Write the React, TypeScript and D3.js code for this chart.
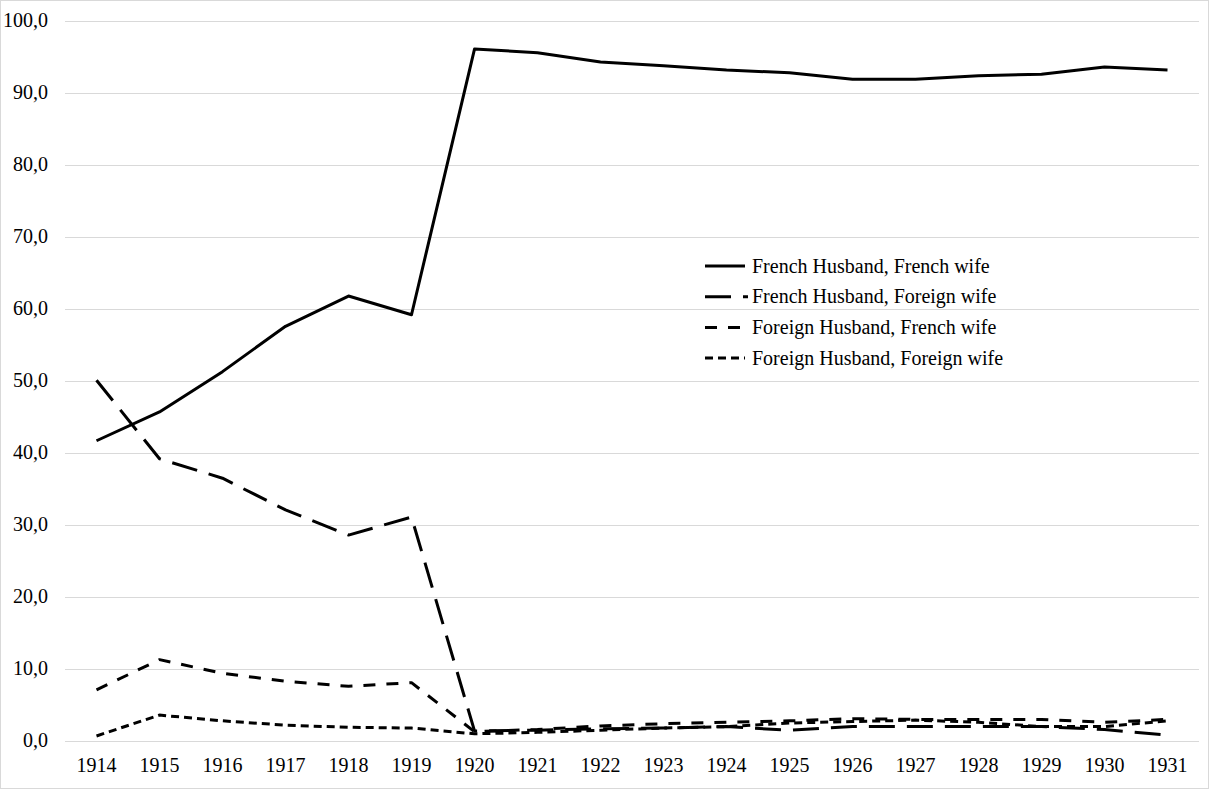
import { useEffect, useRef } from 'react'
import * as d3 from 'd3'

const years = ['1914', '1915', '1916', '1917', '1918', '1919', '1920', '1921', '1922', '1923', '1924', '1925', '1926', '1927', '1928', '1929', '1930', '1931']

const frenchFrench = [41.7, 45.7, 51.3, 57.6, 61.8, 59.2, 96.1, 95.6, 94.3, 93.8, 93.2, 92.8, 91.9, 91.9, 92.4, 92.6, 93.6, 93.2]
const frenchForeign = [50.1, 39.2, 36.5, 32.1, 28.6, 31.1, 1.4, 1.5, 1.7, 1.8, 2.0, 1.5, 2.0, 2.0, 2.0, 2.0, 1.6, 0.8]
const foreignFrench = [7.1, 11.3, 9.4, 8.3, 7.6, 8.1, 1.3, 1.6, 2.1, 2.4, 2.6, 2.8, 3.1, 3.0, 3.0, 3.0, 2.6, 3.0]
const foreignForeign = [0.7, 3.6, 2.8, 2.2, 1.9, 1.8, 1.0, 1.2, 1.5, 1.8, 2.0, 2.5, 2.7, 2.9, 2.6, 2.0, 2.0, 2.8]

const seriesNames = ['French Husband, French wife', 'French Husband, Foreign wife', 'Foreign Husband, French wife', 'Foreign Husband, Foreign wife']
const yTicks = [0, 10, 20, 30, 40, 50, 60, 70, 80, 90, 100]

export default function App() {
  const svgRef = useRef<SVGSVGElement>(null)

  useEffect(() => {
    if (!svgRef.current) return
    const width = 1212
    const height = 791
    const margin = { top: 21, right: 13, bottom: 50, left: 65 }
    const innerWidth = width - margin.left - margin.right
    const innerHeight = height - margin.top - margin.bottom
    const font = '"Liberation Serif", "Times New Roman", serif'

    const x = d3.scaleBand().domain(years).range([0, innerWidth])
    const y = d3.scaleLinear().domain([0, 100]).range([innerHeight, 0])

    const svg = d3.select(svgRef.current)
    svg.selectAll('*').remove()
    svg.attr('width', width).attr('height', height)

    svg.append('rect')
      .attr('x', 0.5).attr('y', 0.5)
      .attr('width', width - 4).attr('height', height - 3)
      .attr('fill', '#fff').attr('stroke', '#d9d9d9')

    const g = svg.append('g').attr('transform', `translate(${margin.left},${margin.top})`)

    // gridlines
    g.append('g')
      .selectAll('line')
      .data(yTicks)
      .join('line')
      .attr('x1', 0).attr('x2', innerWidth)
      .attr('y1', d => Math.round(y(d)) + 0.5).attr('y2', d => Math.round(y(d)) + 0.5)
      .attr('stroke', '#d9d9d9').attr('stroke-width', 1)

    g.append('g')
      .selectAll('text')
      .data(yTicks)
      .join('text')
      .attr('x', -17).attr('y', d => y(d) + 6)
      .attr('text-anchor', 'end')
      .style('font-family', font).style('font-size', '20px').attr('fill', '#000')
      .text(d => d.toFixed(1).replace('.', ','))

    g.append('g')
      .selectAll('text')
      .data(years)
      .join('text')
      .attr('x', d => (x(d) as number) + x.bandwidth() / 2).attr('y', innerHeight + 31)
      .attr('text-anchor', 'middle')
      .style('font-family', font).style('font-size', '20px').attr('fill', '#000')
      .text(d => d)

    const series = [frenchFrench, frenchForeign, foreignFrench, foreignForeign]
    const dashes = ['none', '26,12', '12,11', '8,5']

    const line = d3.line<number>()
      .x((_, i) => (x(years[i]) as number) + x.bandwidth() / 2)
      .y(d => y(d))

    // draw back to front
    for (let s = series.length - 1; s >= 0; s--) {
      g.append('path')
        .datum(series[s])
        .attr('d', line)
        .attr('fill', 'none')
        .attr('stroke', '#000')
        .attr('stroke-width', 3)
        .attr('stroke-dasharray', dashes[s])
        .attr('stroke-linejoin', 'round')
    }

    // legend
    const legend = svg.append('g').attr('transform', 'translate(705,266)')
    seriesNames.forEach((name, i) => {
      const row = legend.append('g').attr('transform', `translate(0,${i * 30.7})`)
      row.append('line')
        .attr('x1', 0).attr('x2', i === 1 ? 43 : 40)
        .attr('y1', 0).attr('y2', 0)
        .attr('stroke', '#000').attr('stroke-width', 3)
        .attr('stroke-dasharray', dashes[i])
      row.append('text')
        .attr('x', 47).attr('y', 6.5)
        .style('font-family', font).style('font-size', '20px').attr('fill', '#000')
        .text(name)
    })
  }, [])

  return (
    <svg ref={svgRef} style={{ position: 'absolute', left: 0, top: 0, display: 'block' }} />
  )
}
